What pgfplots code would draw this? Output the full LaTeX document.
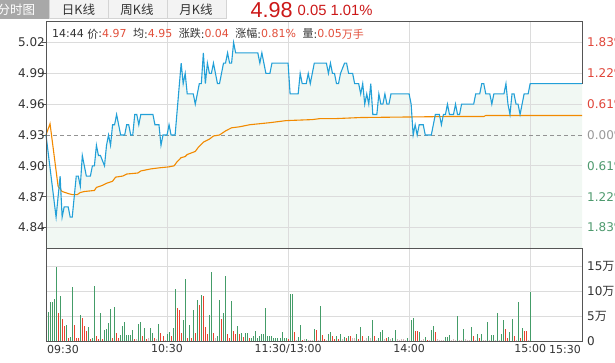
\documentclass[border=0pt]{standalone}
\usepackage{pgfplots}
\pgfplotsset{compat=1.18}
\usepackage{pgfplotstable}
\usepackage{fontspec}
\setmainfont{DejaVu Sans}
\newfontfamily\cjk{Noto Sans CJK SC}
\newfontfamily\lib{Liberation Sans}
\definecolor{pline}{HTML}{22A0D8}
\definecolor{aline}{HTML}{F28A00}
\definecolor{fillg}{HTML}{F1F8F3}
\definecolor{gridc}{HTML}{DCDCDC}
\definecolor{axc}{HTML}{555555}
\definecolor{upred}{HTML}{E0463A}
\definecolor{infored}{HTML}{E2503C}
\definecolor{dngreen}{HTML}{4E9A6E}
\definecolor{bargreen}{HTML}{449C68}
\definecolor{barred}{HTML}{E8432E}
\definecolor{bargray}{HTML}{D0B8B8}
\definecolor{txt}{HTML}{333333}
\definecolor{hdrred}{HTML}{CC1818}
\definecolor{tabgray}{HTML}{A8A8A8}
\definecolor{tabbg}{HTML}{F3F3F3}
\definecolor{tabbd}{HTML}{D4D4D4}

\pgfplotstableread{
m p
0 4.93
5 4.85
7 4.89
8 4.85
9 4.86
11 4.86
12 4.85
13 4.85
14 4.87
15 4.89
16 4.89
17 4.88
18 4.91
19 4.90
20 4.89
22 4.89
23 4.90
24 4.90
25 4.92
26 4.91
27 4.91
29 4.90
30 4.92
31 4.93
32 4.92
33 4.94
34 4.94
35 4.95
36 4.94
37 4.93
39 4.93
40 4.94
41 4.94
42 4.93
43 4.93
44 4.95
45 4.95
46 4.94
47 4.95
53 4.95
54 4.94
56 4.94
57 4.92
58 4.93
60 4.93
61 4.94
62 4.93
64 4.93
67 5.00
68 4.98
69 4.99
70 4.97
73 4.97
74 4.96
76 4.98
77 4.98
78 5.01
79 4.98
80 5.00
81 4.99
82 4.99
83 5.00
85 4.98
86 4.98
88 5.00
89 5.00
90 5.01
91 5.00
92 5.00
93 5.02
94 5.01
105 5.01
106 5.00
107 5.01
108 5.00
109 4.99
111 4.99
112 5.00
120 5.00
121 4.97
125 4.97
126 4.99
127 4.98
129 4.98
130 4.99
131 4.98
133 5.00
139 5.00
140 4.99
141 5.00
142 4.99
143 4.99
144 4.98
145 4.98
146 4.99
148 5.00
149 5.00
150 4.99
152 4.99
153 4.98
155 4.98
156 4.97
157 4.98
158 4.96
159 4.97
160 4.96
161 4.98
162 4.95
164 4.95
165 4.97
166 4.96
167 4.96
168 4.97
169 4.96
170 4.96
171 4.97
180 4.97
181 4.96
182 4.93
183 4.94
184 4.93
185 4.94
187 4.94
188 4.93
191 4.93
193 4.95
195 4.95
196 4.94
197 4.95
198 4.95
199 4.96
200 4.95
202 4.95
203 4.96
204 4.95
205 4.95
206 4.96
212 4.96
213 4.97
215 4.97
216 4.98
217 4.98
218 4.97
220 4.97
221 4.96
222 4.97
227 4.97
228 4.98
229 4.96
230 4.95
231 4.97
232 4.97
233 4.96
234 4.96
235 4.95
236 4.96
237 4.97
239 4.97
240 4.98
265.7 4.98
}\pricetab

\pgfplotstableread{
m p
0 4.930
2 4.941
6 4.880
8 4.875
11 4.873
13 4.872
15.5 4.872
17 4.874
19 4.875
24 4.876
25 4.879
28 4.881
30 4.883
33 4.885
34.5 4.889
38 4.890
40 4.892
45.5 4.893
47 4.895
52 4.897
56 4.898
61 4.899
63.5 4.900
65 4.904
67 4.908
69 4.909
70 4.911
74 4.914
75.5 4.918
78 4.923
81 4.926
83 4.929
86 4.930
89 4.934
92 4.937
96 4.938
101 4.940
106 4.941
111 4.942
119 4.944
132 4.945
136 4.946
144 4.946
156 4.947
200 4.948
217 4.948
218 4.949
240 4.949
265.7 4.949
}\avgtab

\pgfplotstableread{
m v
1 5.9
2 7.9
3 7.9
4 8.5
5 14.9
7 9.0
10 3.3
12 0.9
13 10.9
17 5.2
21 2.9
23 0.7
24 11.1
27 5.7
29 2.2
30 2.5
31 3.7
32 6.5
34 6.9
37 1.2
38 3.1
39 3.8
40 1.2
41 1.2
42 1.3
43 2.2
46 3.5
47 3.9
49 2.7
52 2.7
53 1.7
56 3.5
60 1.4
61 1.9
63 2.7
64 10.5
68 4.2
69 12.5
71 3.3
73 6.3
75 8.3
77 9.3
81 5.2
82 13.9
85 1.0
86 8.3
88 5.7
89 13.0
92 8.1
95 3.1
97 1.7
99 1.7
100 1.7
102 0.7
103 1.0
104 2.1
105 0.7
106 1.0
107 1.4
108 1.5
109 6.7
110 1.0
111 1.0
112 1.0
113 0.7
114 0.7
115 0.7
116 0.7
117 1.9
118 0.7
119 0.7
121 9.5
122 9.5
125 0.9
126 3.3
129 0.5
133 2.5
136 7.0
140 1.5
141 1.9
144 1.0
146 1.5
148 0.9
150 1.1
154 1.5
156 2.9
160 1.0
162 4.2
165 0.7
166 1.9
167 2.3
170 0.9
172 0.7
173 2.3
179 0.7
181 4.2
182 4.7
185 1.9
188 0.9
191 2.3
192 3.1
198 0.9
199 0.9
200 1.3
204 5.1
207 2.5
211 2.9
214 1.5
216 1.4
219 3.8
221 1.3
222 1.3
224 5.7
226 1.5
227 4.2
230 1.9
231 4.5
234 7.9
236 2.7
240 9.9
}\volg

\pgfplotstableread{
m v
6 5.7
8 4.5
9 3.1
11 0.7
14 3.3
15 0.7
16 0.7
18 4.7
19 3.1
20 2.1
22 0.5
25 1.0
26 0.5
28 0.5
33 0.7
35 1.7
36 0.7
44 0.5
48 1.0
50 0.5
54 0.7
57 1.7
58 1.0
62 1.0
65 6.7
66 6.2
67 1.7
70 0.7
72 0.7
74 1.7
76 7.3
78 9.0
79 2.9
80 1.4
83 1.7
87 4.5
90 1.4
91 0.7
93 2.1
94 1.5
96 1.5
98 0.9
101 0.7
120 0.5
123 1.8
127 0.3
134 2.3
137 1.3
138 0.5
142 1.0
143 0.5
145 0.5
149 0.6
151 1.0
155 0.5
157 1.1
163 1.1
169 0.7
183 2.1
184 2.1
189 0.3
193 1.9
212 1.0
215 0.7
228 2.5
229 0.7
232 1.0
235 0.7
237 2.1
238 2.0
}\volr

\pgfplotstableread{
m v
45 0.5
51 0.7
55 0.5
59 0.3
84 0.7
124 0.3
128 0.5
130 0.3
131 0.3
132 0.3
135 0.3
139 0.3
147 0.5
152 0.7
153 0.7
158 0.3
159 0.6
161 0.6
164 0.3
168 0.5
171 0.5
174 0.5
175 0.3
176 0.5
177 0.5
178 0.3
180 0.3
186 0.3
187 0.5
190 0.3
194 0.5
195 0.3
196 0.3
197 0.3
201 0.3
202 0.5
203 0.3
205 0.3
206 0.3
208 0.5
209 0.3
210 0.3
213 0.3
217 0.3
218 0.3
220 0.3
223 0.3
225 0.3
233 0.3
239 0.2
}\volx

\begin{document}
\begin{tikzpicture}
\useasboundingbox (0pt,0pt) rectangle (615pt,362pt);
\fill[white] (0pt,0pt) rectangle (615pt,362pt);

% header tabs
\fill[tabgray] (0pt,343pt) rectangle (49pt,362pt);
\filldraw[fill=tabbg, draw=tabbd, line width=0.8pt] (49.4pt,343.4pt) rectangle (108pt,362.5pt);
\filldraw[fill=tabbg, draw=tabbd, line width=0.8pt] (108pt,343.4pt) rectangle (167pt,362.5pt);
\filldraw[fill=tabbg, draw=tabbd, line width=0.8pt] (167pt,343.4pt) rectangle (226pt,362.5pt);
\node[anchor=base, inner sep=0pt, text=white, font=\fontsize{12.5}{14}\cjk] at (16.5pt,347.5pt) {分时图};
\node[anchor=base, inner sep=0pt, text=txt, font=\fontsize{12.5}{14}\cjk] at (78.5pt,347.5pt) {日K线};
\node[anchor=base, inner sep=0pt, text=txt, font=\fontsize{12.5}{14}\cjk] at (137pt,347.5pt) {周K线};
\node[anchor=base, inner sep=0pt, text=txt, font=\fontsize{12.5}{14}\cjk] at (196pt,347.5pt) {月K线};
\node[anchor=base west, inner sep=0pt, text=hdrred, font=\fontsize{21.6}{24}\lib] at (250.5pt,344.5pt) {4.98};
\node[anchor=base west, inner sep=0pt, text=hdrred, font=\fontsize{14.8}{17}\lib] at (297.5pt,346pt) {0.05 1.01\%};

% fill under the price line (drawn first, below the grid)
\begin{axis}[
  at={(46pt,114pt)}, anchor=south west, scale only axis,
  width=536pt, height=226pt,
  xmin=0, xmax=265.7, ymin=4.82, ymax=5.04,
  hide axis,
]
\addplot[fill=fillg, draw=none] table[x=m,y=p] {\pricetab} |- (0,4.82) -- cycle;
\end{axis}

% price panel
\begin{axis}[
  at={(46pt,114pt)}, anchor=south west, scale only axis,
  width=536pt, height=226pt,
  xmin=0, xmax=265.7, ymin=4.82, ymax=5.04,
  clip=false,
  axis line style={draw=none},
  xtick={60,120,180,240}, xticklabels={}, xtick style={draw=none},
  ytick={4.84,4.87,4.90,4.96,4.99,5.02},
  extra y ticks={4.93}, extra y tick labels={4.93},
  extra y tick style={grid=none},
  ytick pos=left, tick align=outside, major tick length=4pt,
  ytick style={draw=axc, line width=0.8pt},
  grid=major, grid style={draw=gridc, line width=0.8pt},
  yticklabel style={font=\fontsize{12}{14}\selectfont, text=txt, inner sep=0pt, xshift=3pt,
    /pgf/number format/.cd, fixed, fixed zerofill, precision=2, assume math mode=true},
]
\addplot[draw=gray!85, line width=0.8pt, dash pattern=on 4pt off 3pt] coordinates {(0,4.93) (265.7,4.93)};
\addplot[aline, line width=1.1pt, mark=none] table[x=m,y=p] {\avgtab};
\addplot[pline, line width=1.1pt, mark=none] table[x=m,y=p] {\pricetab};
\draw[axc, line width=1pt] (265.7,4.98) -- (rel axis cs:1,1) -- (rel axis cs:0,1) -- (rel axis cs:0,0);
\node[anchor=base west, inner sep=0pt, text=txt, font=\fontsize{11}{13}\selectfont] at (rel axis cs:0,1) [xshift=6pt, yshift=-16pt]
  {14:44 {\cjk 价}:\textcolor{infored}{4.97}\hspace{6.5pt}{\cjk 均}:\textcolor{infored}{4.95}\hspace{6.5pt}{\cjk 涨跌}:\textcolor{infored}{0.04}\hspace{6.5pt}{\cjk 涨幅}:\textcolor{infored}{0.81\%}\hspace{6.5pt}{\cjk 量}:\textcolor{infored}{0.05{\cjk 万手}}};
\end{axis}

% right percentage labels
\begin{axis}[
  at={(46pt,114pt)}, anchor=south west, scale only axis,
  width=536pt, height=226pt,
  xmin=0, xmax=265.7, ymin=4.82, ymax=5.04,
  hide x axis, axis y line*=right, y axis line style={draw=none},
  ytick={4.84,4.87,4.90,4.93,4.96,4.99,5.02},
  yticklabels={\textcolor{dngreen}{1.83\%},\textcolor{dngreen}{1.22\%},\textcolor{dngreen}{0.61\%},\textcolor{gray!80}{0.00\%},\textcolor{upred}{0.61\%},\textcolor{upred}{1.22\%},\textcolor{upred}{1.83\%}},
  ytick style={draw=none}, major tick length=0pt,
  yticklabel style={font=\fontsize{12}{14}\selectfont, anchor=west, inner sep=0pt, xshift=5pt},
]
\addplot[draw=none, forget plot] coordinates {(0,4.93) (265.7,4.93)};
\end{axis}

% volume panel
\begin{axis}[
  at={(46pt,21pt)}, anchor=south west, scale only axis,
  width=536pt, height=93pt,
  xmin=0, xmax=265.7, ymin=0, ymax=18.6,
  clip=false,
  axis line style={draw=axc, line width=1pt},
  xtick={60,120,180,240}, xticklabels={10:30,11:30/13:00,14:00,15:00},
  xtick style={draw=none},
  extra x ticks={0,265.7}, extra x tick labels={,},
  extra x tick style={grid=none, tick align=outside, major tick length=4pt, tick style={draw=axc, line width=1pt}},
  ytick={5,10,15}, yticklabels={5{\cjk 万},10{\cjk 万},15{\cjk 万}},
  extra y ticks={0}, extra y tick labels={0}, extra y tick style={grid=none},
  ytick pos=right, ytick style={draw=none}, major tick length=0pt,
  grid=major, grid style={draw=gridc, line width=0.8pt},
  xticklabel style={font=\fontsize{11}{13}\selectfont, text=txt},
  yticklabel style={font=\fontsize{12}{14}\selectfont, text=txt, anchor=west, inner sep=0pt, xshift=5pt},
]
\addplot[ycomb, draw=bargray, line width=1pt, mark=none] table[x=m,y=v] {\volx};
\addplot[ycomb, draw=bargreen, line width=1pt, mark=none] table[x=m,y=v] {\volg};
\addplot[ycomb, draw=barred, line width=1pt, mark=none] table[x=m,y=v] {\volr};
\node[anchor=north west, inner sep=0pt, text=txt, font=\fontsize{11}{13}\selectfont] at (rel axis cs:0,0) [xshift=1pt, yshift=-4.5pt] {09:30};
\node[anchor=north east, inner sep=0pt, text=txt, font=\fontsize{11}{13}\selectfont] at (rel axis cs:1,0) [xshift=-1pt, yshift=-4.5pt] {15:30};
\end{axis}
\end{tikzpicture}
\end{document}
